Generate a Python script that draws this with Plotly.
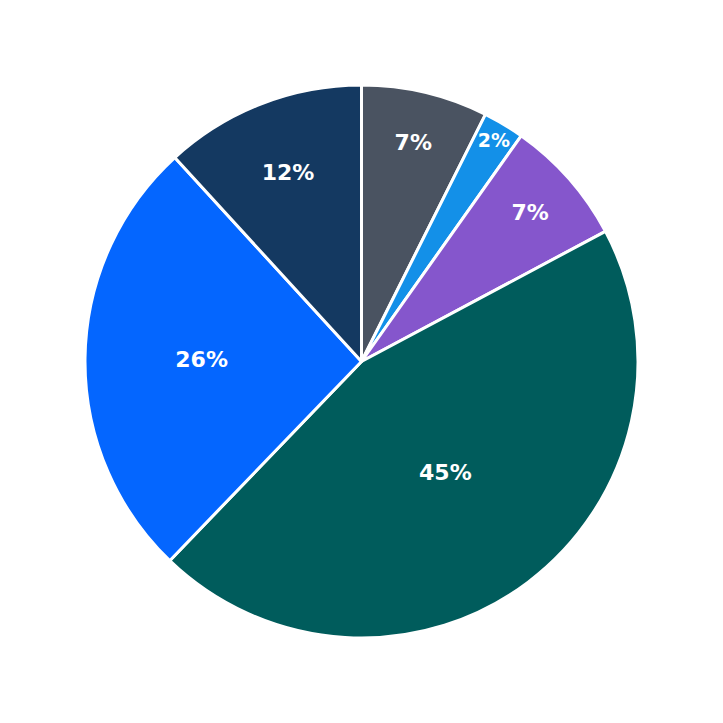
import plotly.graph_objects as go

labels = ["A", "B", "C", "D", "E", "F"]
values = [7.4, 2.4, 7.4, 45.0, 26.0, 11.8]
colors = ["#4a5361", "#1390e8", "#8556cc", "#005c5c", "#0466ff", "#143961"]

fig = go.Figure(go.Pie(
    labels=labels,
    values=values,
    sort=False,
    direction="clockwise",
    rotation=0,
    marker=dict(colors=colors, line=dict(color="white", width=3)),
    textinfo="percent",
    texttemplate="<b>%{percent:.0%}</b>",
    textposition="inside",
    insidetextorientation="horizontal",
    textfont=dict(color="white", size=22, family="DejaVu Sans"),
))
fig.update_layout(
    width=723, height=723,
    showlegend=False,
    margin=dict(l=77, r=93, t=77, b=93),
    paper_bgcolor="white",
    font=dict(family="DejaVu Sans"),
)
fig.write_html("out.html")
